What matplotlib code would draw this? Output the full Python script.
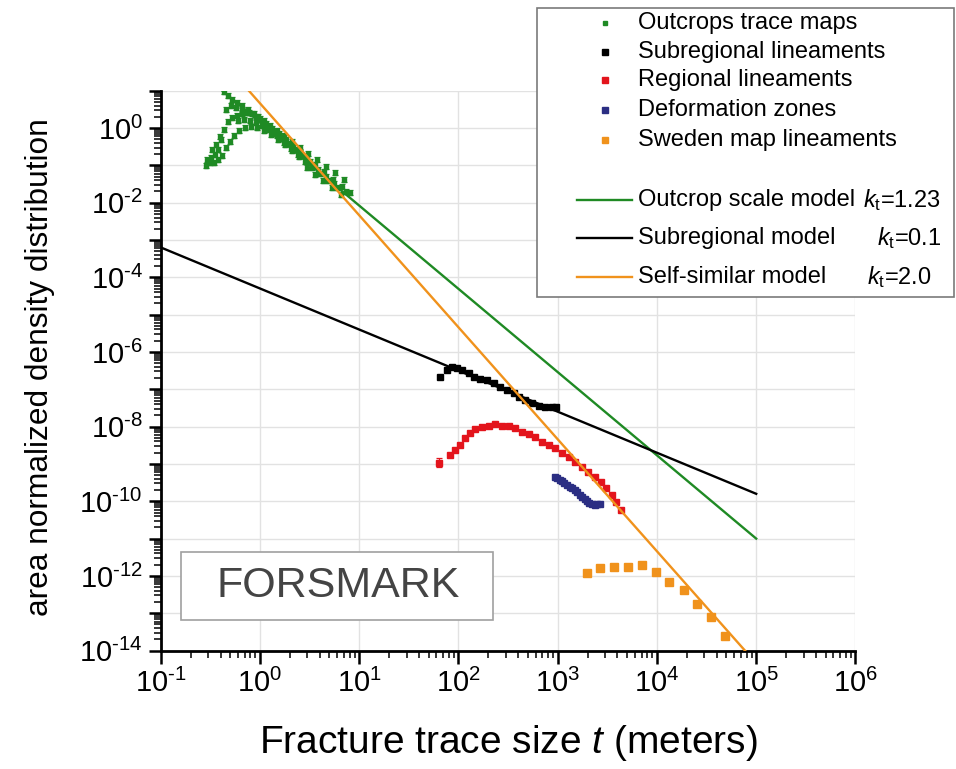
import numpy as np
import matplotlib
matplotlib.use("Agg")
import matplotlib.pyplot as plt
from matplotlib.lines import Line2D
from matplotlib.patches import Rectangle
from matplotlib.ticker import LogLocator, FuncFormatter, NullFormatter

plt.rcParams['font.family'] = ['Liberation Sans', 'DejaVu Sans']
plt.rcParams['mathtext.fontset'] = 'custom'
plt.rcParams['mathtext.rm'] = 'Liberation Sans'
plt.rcParams['mathtext.it'] = 'Liberation Sans:italic'
plt.rcParams['mathtext.bf'] = 'Liberation Sans:bold'

# ---- data (log10 of trace size in m, log10 of density) ----
# outcrop trace maps, several maps
outA_logt = [-0.537, -0.496, -0.456, -0.426, -0.396, -0.366, -0.325, -0.285, -0.235, -0.184,
             -0.134, -0.084, -0.023, 0.037, 0.098, 0.168, 0.239, 0.319, 0.400, 0.480,
             0.571, 0.662, 0.752, 0.843]
outA_logn = [-0.848, -0.795, -0.714, -0.580, -0.313, -0.045, 0.170, 0.277, 0.330, 0.384,
             0.411, 0.384, 0.304, 0.196, 0.062, -0.072, -0.205, -0.366, -0.527, -0.688,
             -0.848, -1.036, -1.197, -1.384]
outB_logt = [-0.366, -0.325, -0.285, -0.235, -0.184, -0.124, -0.063, -0.003, 0.057, 0.118,
             0.188, 0.259, 0.329, 0.400, 0.470, 0.551, 0.641, 0.732, 0.823, 0.903]
outB_logn = [0.973, 0.866, 0.759, 0.679, 0.598, 0.491, 0.384, 0.250, 0.116, -0.018,
             -0.152, -0.313, -0.473, -0.634, -0.795, -0.982, -1.170, -1.384, -1.572, -1.732]
outC_logt = [-0.547, -0.507, -0.466, -0.426, -0.386, -0.345, -0.305, -0.265, -0.215, -0.154,
             -0.094, -0.033, 0.037, 0.108, 0.178, 0.249, 0.319, 0.390, 0.470, 0.551,
             0.631, 0.722, 0.813]
outC_logn = [-1.009, -0.929, -0.929, -0.848, -0.741, -0.527, -0.366, -0.205, -0.072, 0.009,
             0.036, 0.009, -0.072, -0.179, -0.313, -0.447, -0.607, -0.768, -1.063, -1.250,
             -1.411, -1.598, -1.786]
outD_logt = [-0.345, -0.295, -0.245, -0.184, -0.114, -0.043, 0.027, 0.098, 0.168, 0.239,
             0.309, 0.380, 0.450, 0.521, 0.601, 0.682, 0.772, 0.863]
outD_logn = [0.491, 0.598, 0.545, 0.491, 0.411, 0.304, 0.143, -0.018, -0.205, -0.393,
             -0.554, -0.714, -0.902, -1.063, -1.223, -1.411, -1.598, -1.706]
outE_logt = [-0.486, -0.446, -0.406, -0.225, -0.164, -0.104, -0.043, 0.017, 0.078, 0.138,
             0.208, 0.279, 0.349, 0.420, 0.500, 0.581, 0.662, 0.742]
outE_logn = [-0.580, -0.447, -0.232, 0.196, 0.223, 0.196, 0.143, 0.062, -0.045, -0.152,
             -0.286, -0.420, -0.580, -0.741, -0.902, -1.116, -1.304, -1.491]

sub_logt = [1.810, 1.880, 1.930, 1.981, 2.031, 2.102, 2.152, 2.212, 2.283, 2.353,
            2.414, 2.484, 2.555, 2.605, 2.666, 2.736, 2.807, 2.867, 2.938, 2.978]
sub_logn = [-6.661, -6.474, -6.394, -6.420, -6.474, -6.554, -6.661, -6.715, -6.742, -6.822,
            -6.929, -7.010, -7.090, -7.197, -7.277, -7.358, -7.438, -7.465, -7.465, -7.465]

reg_logt = [1.800, 1.910, 1.961, 2.011, 2.061, 2.112, 2.162, 2.233, 2.303, 2.364,
            2.434, 2.505, 2.565, 2.635, 2.706, 2.766, 2.837, 2.907, 2.968, 3.038,
            3.109, 3.169, 3.240, 3.310, 3.371, 3.441, 3.491, 3.542, 3.592, 3.642]
reg_logn = [-8.965, -8.751, -8.617, -8.483, -8.295, -8.162, -8.054, -8.001, -7.974, -7.920,
            -7.974, -7.974, -8.028, -8.135, -8.188, -8.269, -8.403, -8.483, -8.563, -8.697,
            -8.804, -8.938, -9.072, -9.206, -9.340, -9.474, -9.635, -9.822, -10.010, -10.224]

dz_logt = [2.968, 2.993, 3.018, 3.043, 3.068, 3.094, 3.119, 3.144, 3.169, 3.195,
           3.220, 3.245, 3.270, 3.295, 3.320, 3.346, 3.371, 3.396, 3.421]
dz_logn = [-9.340, -9.380, -9.421, -9.461, -9.501, -9.555, -9.608, -9.648, -9.688, -9.755,
           -9.822, -9.876, -9.930, -9.983, -10.037, -10.064, -10.090, -10.077, -10.063]

swe_logt = [3.290, 3.431, 3.572, 3.713, 3.854, 3.995, 4.126, 4.277, 4.408, 4.549, 4.690]
swe_logn = [-11.912, -11.778, -11.751, -11.751, -11.697, -11.885, -12.153, -12.367,
            -12.742, -13.091, -13.600]

# half-width of the error bars (decades)
out_err = 0.07
sub_err = 0.04
reg_err = [0.13] + [0.04] * (len(reg_logt) - 1)
dz_err = 0.04
swe_err = 0.04

# power-law models n(t) = C * t^-(kt+1)
model_t = [1e-1, 1e5]
outcrop_kt, outcrop_logC = 1.23, 0.15
subreg_kt, subreg_logC = 0.1, -4.3
selfsim_kt, selfsim_logC = 2.0, 0.66

# ---- colours ----
GREEN = '#1f8a24'
RED = '#e3141c'
BLUE = '#2b2e83'
ORANGE = '#f0921c'
BLACK = '#000000'

W, H = 956, 769
fig = plt.figure(figsize=(W / 100, H / 100), dpi=100)
ax = fig.add_axes([0.1682, 0.1540, 0.8948 - 0.1682, 0.8821 - 0.1540])
ax.set_xscale('log')
ax.set_yscale('log')


def draw_points(logt, logn, err, color, ms, cap):
    t = 10 ** np.asarray(logt)
    n = 10 ** np.asarray(logn)
    e = np.broadcast_to(np.asarray(err, dtype=float), n.shape)
    lo = n - n / 10 ** e
    hi = n * 10 ** e - n
    ax.errorbar(t, n, yerr=[lo, hi], fmt='s', ms=ms, color=color, mec=color,
                ecolor=color, elinewidth=0.9, capsize=cap, capthick=0.9, zorder=3)


for lt, ln in [(outA_logt, outA_logn), (outB_logt, outB_logn),
               (outC_logt, outC_logn), (outD_logt, outD_logn),
               (outE_logt, outE_logn)]:
    draw_points(lt, ln, out_err, GREEN, 2.8, 2)

draw_points(sub_logt, sub_logn, sub_err, BLACK, 4.8, 2)
draw_points(reg_logt, reg_logn, reg_err, RED, 5, 2.5)
draw_points(dz_logt, dz_logn, dz_err, BLUE, 4.6, 2)
draw_points(swe_logt, swe_logn, swe_err, ORANGE, 5.8, 2)

tm = np.array(model_t)
ax.plot(tm, 10 ** outcrop_logC * tm ** -(outcrop_kt + 1), color=GREEN, lw=1.7, zorder=4)
ax.plot(tm, 10 ** subreg_logC * tm ** -(subreg_kt + 1), color=BLACK, lw=1.7, zorder=4)
ax.plot(tm, 10 ** selfsim_logC * tm ** -(selfsim_kt + 1), color=ORANGE, lw=1.7, zorder=4)

ax.set_xlim(1e-1, 1e6)
ax.set_ylim(1e-14, 1e1)

ax.xaxis.set_major_locator(LogLocator(base=10, numticks=20))
ax.yaxis.set_major_locator(LogLocator(base=10, numticks=30))
ax.xaxis.set_minor_locator(LogLocator(base=10, subs=np.arange(2, 10), numticks=30))
ax.yaxis.set_minor_locator(LogLocator(base=10, subs=np.arange(2, 10), numticks=30))
ax.xaxis.set_minor_formatter(NullFormatter())
ax.yaxis.set_minor_formatter(NullFormatter())


def power_label(e):
    # short hyphen for negative exponents
    if e < 0:
        return r'$\mathregular{10^{\text{-}%d}}$' % (-e)
    return r'$\mathregular{10^{%d}}$' % e


def fmt_x(v, pos):
    return power_label(int(round(np.log10(v))))


def fmt_y(v, pos):
    e = int(round(np.log10(v)))
    if e % 2:
        return ''
    return power_label(e)


ax.xaxis.set_major_formatter(FuncFormatter(fmt_x))
ax.yaxis.set_major_formatter(FuncFormatter(fmt_y))

for s in ('top', 'right'):
    ax.spines[s].set_visible(False)
for s in ('left', 'bottom'):
    ax.spines[s].set_linewidth(2)
ax.tick_params(which='major', direction='out', length=9, width=1.8, labelsize=21, pad=4)
ax.tick_params(which='minor', direction='out', length=5, width=1.1)
ax.grid(True, which='major', color='#e2e2e2', lw=1)
ax.set_axisbelow(True)


def fx(px):
    return px / W


def fy(py):
    return 1 - py / H


fig.text(fx(40), fy(367), 'area normalized density distribution', rotation=90,
         fontsize=22.8, ha='center', va='center')
fig.text(fx(508), fy(743), r'Fracture trace size $t$ (meters)', fontsize=28,
         ha='center', va='center')

# legend panel
fig.add_artist(Rectangle((fx(537), fy(297)), (954 - 537) / W, (297 - 8) / H,
                         transform=fig.transFigure, facecolor='white',
                         edgecolor='#7a7a7a', lw=1.2, zorder=10))
point_entries = [('Outcrops trace maps', GREEN, 2.8),
                 ('Subregional lineaments', BLACK, 4.5),
                 ('Regional lineaments', RED, 4.5),
                 ('Deformation zones', BLUE, 4.5),
                 ('Sweden map lineaments', ORANGE, 4.5)]
LEG_FS = 17
for (label, c, ms), py in zip(point_entries, [23, 52, 80, 110, 140]):
    fig.add_artist(Line2D([fx(605)], [fy(py)], marker='s', ms=ms, color=c, ls='none',
                          transform=fig.transFigure, zorder=11))
    fig.text(fx(638), fy(py), label, fontsize=LEG_FS, ha='left', va='center', zorder=11)

line_entries = [('Outcrop scale model', GREEN, r'$k_{\mathrm{t}}$=1.23', 863),
                ('Subregional model', BLACK, r'$k_{\mathrm{t}}$=0.1', 877),
                ('Self-similar model', ORANGE, r'$k_{\mathrm{t}}$=2.0', 867)]
for (label, c, kt, kx), py in zip(line_entries, [200, 238, 277]):
    fig.add_artist(Line2D([fx(577), fx(632)], [fy(py), fy(py)], color=c, lw=1.7,
                          transform=fig.transFigure, zorder=11))
    fig.text(fx(638), fy(py), label, fontsize=LEG_FS, ha='left', va='center', zorder=11)
    fig.text(fx(kx), fy(py), kt, fontsize=LEG_FS, ha='left', va='center', zorder=11)

# site label box
fig.add_artist(Rectangle((fx(181), fy(620)), (493 - 181) / W, (620 - 552) / H,
                         transform=fig.transFigure, facecolor='white',
                         edgecolor='#a0a0a0', lw=1.2, zorder=10))
fig.text(fx(338), fy(586), 'FORSMARK', fontsize=31, color='#444444',
         ha='center', va='center', zorder=11)

fig.savefig('out.png', dpi=100)
